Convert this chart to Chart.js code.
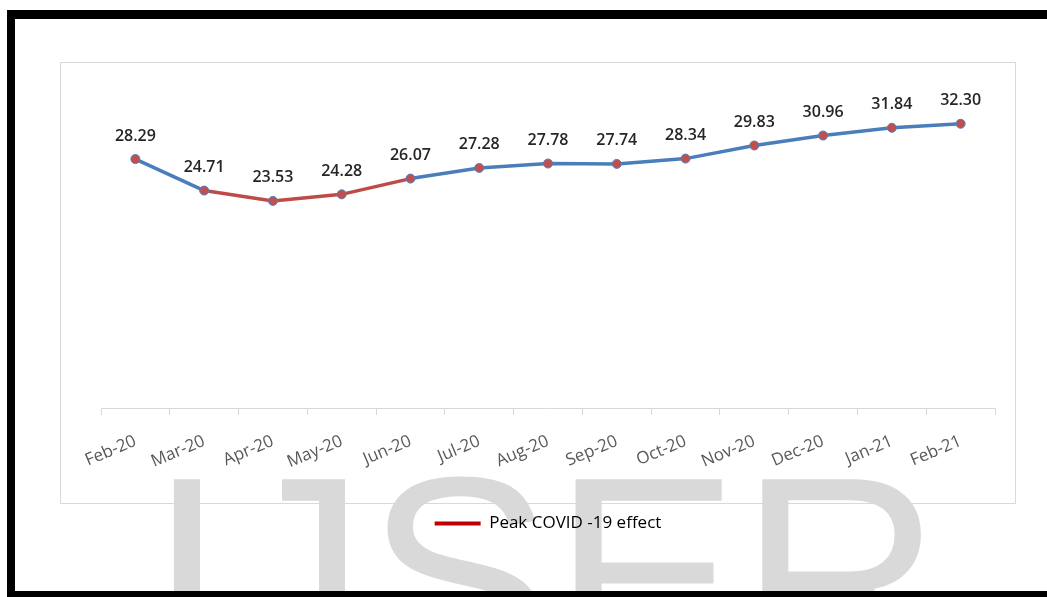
<!DOCTYPE html>
<html>
<head>
<meta charset="utf-8">
<script src="https://cdn.jsdelivr.net/npm/chart.js@4"></script>
<style>
  html, body { margin: 0; padding: 0; background: #fff; }
  #page { position: relative; width: 1047px; height: 597px; overflow: hidden; }
  .bar { position: absolute; background: #000; }
  #watermark {
    position: absolute; left: 148px; top: 435px;
    font-family: "Liberation Sans", Arial, sans-serif;
    font-size: 280px; line-height: 280px; color: #d9d9d9;
    white-space: nowrap;
  }
  #box { position: absolute; left: 60px; top: 62px; width: 954px; height: 440px; border: 1px solid #d9d9d9; }
  #wrap { position: absolute; left: 0; top: 0; width: 1047px; height: 597px; }
</style>
</head>
<body>
<div id="page">
  <div id="watermark">IJSER</div>
  <div id="box"></div>
  <div class="bar" style="left:7px; top:10px; width:1040px; height:9px;"></div>
  <div class="bar" style="left:7px; top:10px; width:8px; height:587px;"></div>
  <div class="bar" style="left:7px; top:591px; width:1040px; height:6px;"></div>
  <div id="wrap"><canvas id="chart"></canvas></div>
</div>
<script>
const months = ["Feb-20", "Mar-20", "Apr-20", "May-20", "Jun-20", "Jul-20", "Aug-20",
  "Sep-20", "Oct-20", "Nov-20", "Dec-20", "Jan-21", "Feb-21"];
const values = [28.29, 24.71, 23.53, 24.28, 26.07, 27.28, 27.78, 27.74, 28.34, 29.83, 30.96, 31.84, 32.30];
// first and last month of the highlighted stretch
const peakStart = 1;
const peakEnd = 4;
const legendLabel = "Peak COVID -19 effect";

const blue = "#4A7EBB";
const red = "#BE4B48";

const valueLabels = {
  id: "valueLabels",
  afterDatasetsDraw(chart) {
    const ctx = chart.ctx;
    const meta = chart.getDatasetMeta(0);
    ctx.save();
    ctx.font = "600 16px 'Open Sans'";
    ctx.fillStyle = "#262626";
    ctx.textAlign = "center";
    ctx.textBaseline = "middle";
    meta.data.forEach((pt, i) => {
      ctx.fillText(values[i].toFixed(2), pt.x, pt.y - 23);
    });
    ctx.restore();
  },
};

const ctx = document.getElementById("chart");

const chart = new Chart(ctx, {
  type: "line",
  data: {
    labels: months,
    datasets: [
      {
        label: legendLabel,
        data: values,
        borderColor: blue,
        borderWidth: 3.5,
        pointRadius: 4.5,
        pointBackgroundColor: "#C0504D",
        pointBorderColor: "#4F81BD",
        pointBorderWidth: 1,
        tension: 0,
        clip: false,
        segment: {
          borderColor: (c) => (c.p0DataIndex >= peakStart && c.p1DataIndex <= peakEnd ? red : blue),
        },
      },
    ],
  },
  options: {
    responsive: true,
    maintainAspectRatio: false,
    animation: false,
    layout: {
      padding: { left: 101, right: 52, top: 100, bottom: 55 },
    },
    scales: {
      x: {
        offset: true,
        afterFit: (scale) => {
          scale.height = 97;
        },
        grid: {
          offset: true,
          drawOnChartArea: false,
          drawTicks: true,
          tickLength: 7,
          color: "#d9d9d9",
        },
        border: { display: true, color: "#d9d9d9", width: 1 },
        ticks: {
          color: "#595959",
          font: { size: 17, family: "Open Sans" },
          minRotation: 23,
          maxRotation: 23,
          padding: 16,
          autoSkip: false,
        },
      },
      y: {
        display: false,
        min: 0,
        max: 35,
      },
    },
    plugins: {
      tooltip: { enabled: false },
      legend: {
        display: true,
        position: "bottom",
        labels: {
          boxWidth: 46,
          boxHeight: 4,
          color: "#1a1a1a",
          font: { size: 17, family: "Open Sans" },
          generateLabels: () => [
            {
              text: legendLabel,
              fillStyle: "#C00000",
              strokeStyle: "#C00000",
              lineWidth: 0,
              hidden: false,
              datasetIndex: 0,
            },
          ],
        },
      },
    },
  },
  plugins: [valueLabels],
});
</script>
</body>
</html>
